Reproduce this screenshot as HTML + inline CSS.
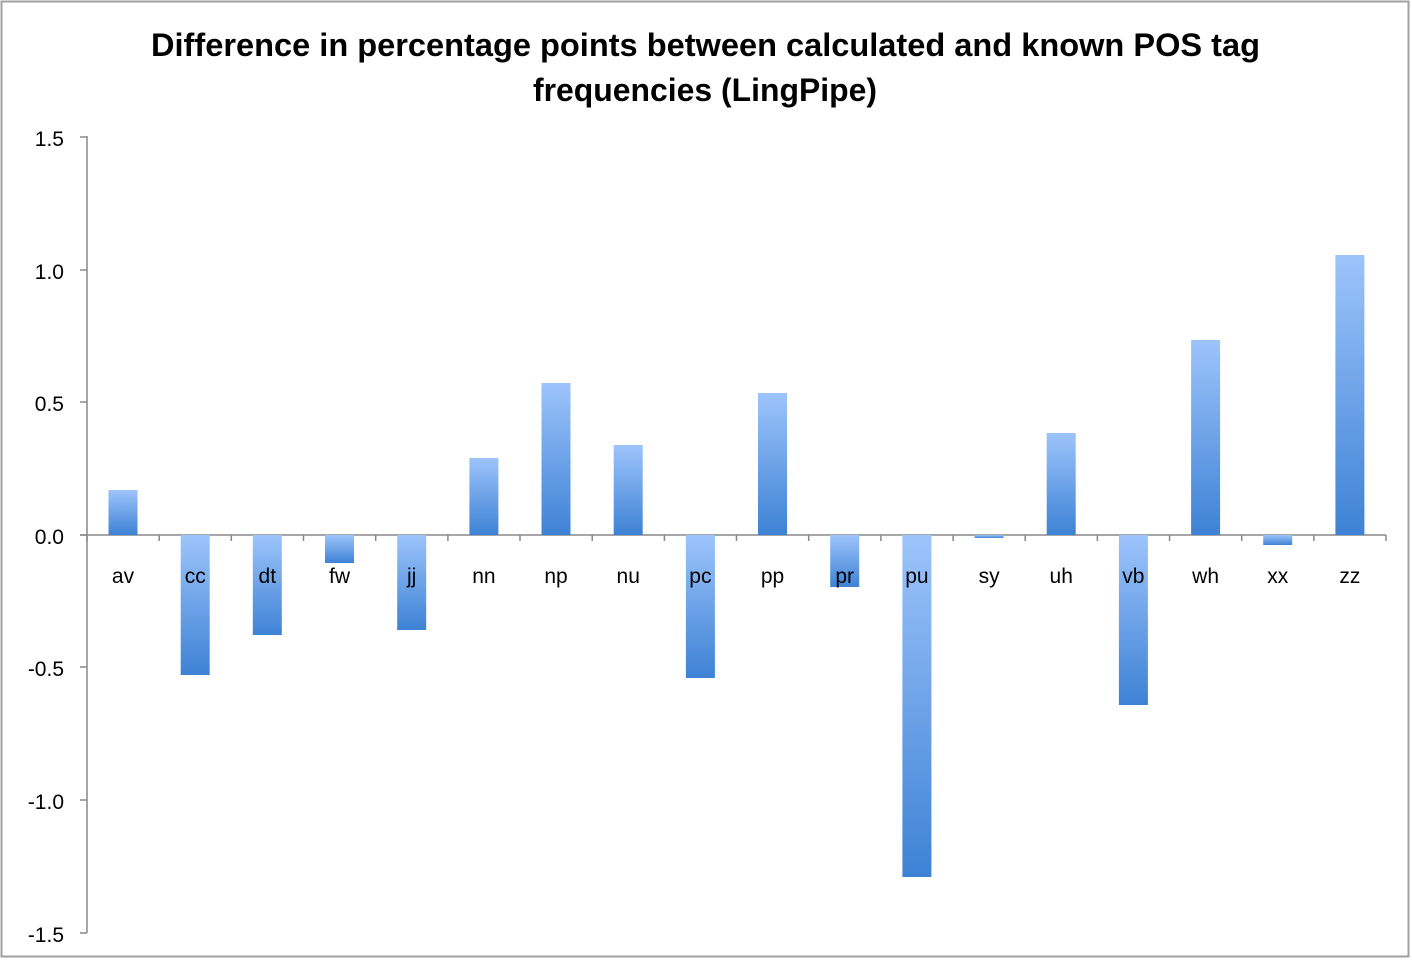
<!DOCTYPE html>
<html><head><meta charset="utf-8"><style>
html,body{margin:0;padding:0;background:#fff;}
svg{display:block;font-family:"Liberation Sans",sans-serif;}
</style></head><body>
<svg width="1412" height="960" viewBox="0 0 1412 960" xmlns="http://www.w3.org/2000/svg">
<defs>
<linearGradient id="g" x1="0" y1="0" x2="0" y2="1">
<stop offset="0" stop-color="#9dc4fb"/><stop offset="1" stop-color="#3e82d5"/>
</linearGradient>
</defs>
<rect x="1.5" y="1.5" width="1407" height="955" fill="#fff" stroke="#a0a0a0" stroke-width="2"/>
<text x="151" y="56" font-size="32" font-weight="bold" fill="#000" textLength="1109" lengthAdjust="spacingAndGlyphs">Difference in percentage points between calculated and known POS tag</text>
<text x="533" y="101" font-size="32" font-weight="bold" fill="#000" textLength="344" lengthAdjust="spacingAndGlyphs">frequencies (LingPipe)</text>
<g stroke="#888" stroke-width="1.5" fill="none">
<line x1="87" y1="136" x2="87" y2="933"/>
<line x1="80" y1="137" x2="87" y2="137"/>
<line x1="80" y1="270" x2="87" y2="270"/>
<line x1="80" y1="402" x2="87" y2="402"/>
<line x1="80" y1="535" x2="87" y2="535"/>
<line x1="80" y1="667" x2="87" y2="667"/>
<line x1="80" y1="800" x2="87" y2="800"/>
<line x1="80" y1="933" x2="87" y2="933"/>
<line x1="80" y1="535" x2="1386" y2="535"/>
<path d="M87 535v6M159.2 535v6M231.3 535v6M303.5 535v6M375.7 535v6M447.9 535v6M520 535v6M592.2 535v6M664.4 535v6M736.5 535v6M808.7 535v6M880.9 535v6M953.1 535v6M1025.2 535v6M1097.4 535v6M1169.6 535v6M1241.7 535v6M1313.9 535v6M1386 535v6"/>
</g>
<g font-size="21" fill="#000" text-anchor="end">
<text x="64" y="146">1.5</text>
<text x="64" y="279">1.0</text>
<text x="64" y="411">0.5</text>
<text x="64" y="544">0.0</text>
<text x="64" y="676">-0.5</text>
<text x="64" y="809">-1.0</text>
<text x="64" y="942">-1.5</text>
</g>
<g fill="url(#g)">
<rect x="108.5" y="490" width="29" height="45"/>
<rect x="180.7" y="535" width="29" height="140"/>
<rect x="252.8" y="535" width="29" height="100"/>
<rect x="325.0" y="535" width="29" height="28"/>
<rect x="397.2" y="535" width="29" height="95"/>
<rect x="469.4" y="458" width="29" height="77"/>
<rect x="541.5" y="383" width="29" height="152"/>
<rect x="613.7" y="445" width="29" height="90"/>
<rect x="685.9" y="535" width="29" height="143"/>
<rect x="758.0" y="393" width="29" height="142"/>
<rect x="830.2" y="535" width="29" height="52"/>
<rect x="902.4" y="535" width="29" height="342"/>
<rect x="974.6" y="535" width="29" height="3"/>
<rect x="1046.7" y="433" width="29" height="102"/>
<rect x="1118.9" y="535" width="29" height="170"/>
<rect x="1191.1" y="340" width="29" height="195"/>
<rect x="1263.2" y="535" width="29" height="10"/>
<rect x="1335.4" y="255" width="29" height="280"/>
</g>
<g font-size="21" fill="#000" text-anchor="middle">
<text x="123" y="583">av</text><text x="195.2" y="583">cc</text><text x="267.3" y="583">dt</text>
<text x="339.5" y="583">fw</text><text x="411.7" y="583">jj</text><text x="483.9" y="583">nn</text>
<text x="556" y="583">np</text><text x="628.2" y="583">nu</text><text x="700.4" y="583">pc</text>
<text x="772.5" y="583">pp</text><text x="844.7" y="583">pr</text><text x="916.9" y="583">pu</text>
<text x="989.1" y="583">sy</text><text x="1061.2" y="583">uh</text><text x="1133.4" y="583">vb</text>
<text x="1205.6" y="583">wh</text><text x="1277.7" y="583">xx</text><text x="1349.9" y="583">zz</text>
</g>
</svg>
</body></html>
